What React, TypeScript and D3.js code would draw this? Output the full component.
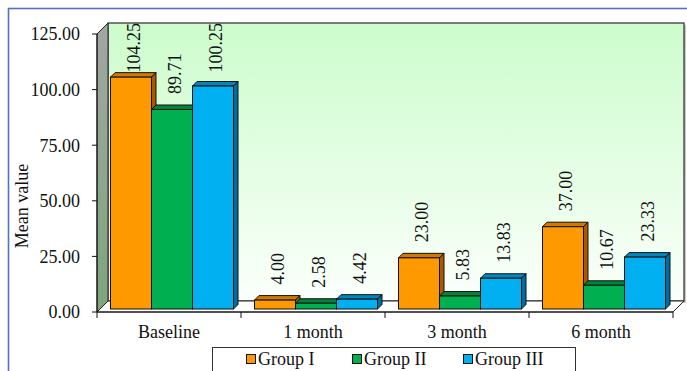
import * as d3 from "d3";

const categories = ["Baseline", "1 month", "3 month", "6 month"];
const groups = ["Group I", "Group II", "Group III"];
const groupI = [104.25, 4.0, 23.0, 37.0];
const groupII = [89.71, 2.58, 5.83, 10.67];
const groupIII = [100.25, 4.42, 13.83, 23.33];
const yTicks = [0, 25, 50, 75, 100, 125];

const seriesValues = [groupI, groupII, groupIII];
const fronts = ["#FF9900", "#00B050", "#00B0F0"];
const tops = ["#D27A00", "#00843C", "#0087BE"];
const sides = ["#A85A00", "#006A30", "#006E9C"];

const W = 687,
  H = 371;
const left = 97,
  right = 673,
  bottom = 312,
  top = 34;
const depth = 11; // wall depth
const shift = 3; // bars sit a little behind the front plane
const bd = 4.5; // bar depth
const font = "'Liberation Serif', 'Times New Roman', serif";
const fs = 18;

const y = d3.scaleLinear().domain([0, 125]).range([bottom, top]);
const x = d3.scaleBand().domain(categories).range([left, right]).padding(0);
const xg = d3
  .scaleBand()
  .domain(groups)
  .range([0, x.bandwidth()])
  .paddingInner(0)
  .paddingOuter(0.256);

const pts = (p: number[][]) => p.map((d) => d.join(",")).join(" ");

export default function App() {
  const bars: any[] = [];
  categories.forEach((c, ci) => {
    groups.forEach((g, gi) => {
      const v = seriesValues[gi][ci];
      const x0 = (x(c) as number) + (xg(g) as number) + shift;
      const bw = xg.bandwidth();
      const yb = bottom - shift;
      const yt = y(v) - shift;
      bars.push({ c, g, gi, v, x0, bw, yb, yt });
    });
  });

  return (
    <svg
      width={W}
      height={H}
      style={{ position: "absolute", left: 0, top: 0, display: "block" }}
      fontFamily={font}
    >
      <defs>
        <linearGradient id="wall" x1="0" x2="0" y1="0" y2="1">
          <stop offset="0%" stopColor="#CCFCCC" />
          <stop offset="100%" stopColor="#FBFFFB" />
        </linearGradient>
        <linearGradient id="side" x1="0" x2="0" y1="0" y2="1">
          <stop offset="0%" stopColor="#A3A6A3" />
          <stop offset="100%" stopColor="#7DA57D" />
        </linearGradient>
      </defs>
      <rect width={W} height={H} fill="#fff" />
      <rect
        x={8.5}
        y={8.5}
        width={W + 20}
        height={H + 20}
        fill="none"
        stroke="#4F74B8"
        strokeWidth={1.6}
      />

      {/* back wall */}
      <rect
        x={left + depth + 2}
        y={top - depth + 2}
        width={right - left}
        height={bottom - top}
        fill="#c8c8c8"
      />
      <rect
        x={left + depth}
        y={top - depth}
        width={right - left}
        height={bottom - top}
        fill="url(#wall)"
        stroke="#3a3a3a"
        strokeWidth={1.3}
      />
      {/* side wall */}
      <polygon
        points={pts([
          [left, top],
          [left + depth, top - depth],
          [left + depth, bottom - depth],
          [left, bottom],
        ])}
        fill="url(#side)"
        stroke="#222"
        strokeWidth={1}
      />
      {/* floor */}
      <polygon
        points={pts([
          [left, bottom],
          [right, bottom],
          [right + depth, bottom - depth],
          [left + depth, bottom - depth],
        ])}
        fill="#fff"
        stroke="#222"
        strokeWidth={1}
      />

      {/* bars */}
      {bars.map((b, i) => (
        <g key={i} stroke="#111" strokeWidth={1}>
          <polygon
            points={pts([
              [b.x0, b.yt],
              [b.x0 + bd, b.yt - bd],
              [b.x0 + b.bw + bd, b.yt - bd],
              [b.x0 + b.bw, b.yt],
            ])}
            fill={tops[b.gi]}
          />
          <polygon
            points={pts([
              [b.x0 + b.bw, b.yt],
              [b.x0 + b.bw + bd, b.yt - bd],
              [b.x0 + b.bw + bd, b.yb - bd],
              [b.x0 + b.bw, b.yb],
            ])}
            fill={sides[b.gi]}
          />
          <rect
            x={b.x0}
            y={b.yt}
            width={b.bw}
            height={b.yb - b.yt}
            fill={fronts[b.gi]}
          />
        </g>
      ))}

      {/* value labels */}
      {bars.map((b, i) => {
        const label = b.v.toFixed(2);
        const tw = (label.length - 1) * fs * 0.5 + fs * 0.25;
        const ly = Math.max(b.yt - bd - 11, top - depth + tw);
        const lx = b.x0 + b.bw / 2 + bd / 2;
        return (
          <text
            key={i}
            transform={`translate(${lx},${ly}) rotate(-90)`}
            fontSize={fs}
            dy="0.35em"
            fill="#111"
          >
            {label}
          </text>
        );
      })}

      {/* y axis */}
      <line x1={left} x2={left} y1={top} y2={bottom} stroke="#111" />
      {yTicks.map((t) => (
        <g key={t}>
          <line x1={left - 5} x2={left} y1={y(t)} y2={y(t)} stroke="#111" />
          <text
            x={80}
            y={y(t)}
            dy="0.35em"
            textAnchor="end"
            fontSize={fs}
            fill="#111"
          >
            {t.toFixed(2)}
          </text>
        </g>
      ))}
      <text
        transform={`translate(22,206) rotate(-90)`}
        textAnchor="middle"
        dy="0.35em"
        fontSize={fs}
        fill="#111"
      >
        Mean value
      </text>

      {/* x axis */}
      <line x1={left} x2={right} y1={bottom} y2={bottom} stroke="#111" />
      {[...categories.map((c) => x(c) as number), right].map((t, i) => (
        <line key={i} x1={t} x2={t} y1={bottom} y2={bottom + 6} stroke="#111" />
      ))}
      {categories.map((c) => (
        <text
          key={c}
          x={(x(c) as number) + x.bandwidth() / 2}
          y={338}
          textAnchor="middle"
          fontSize={fs}
          fill="#111"
        >
          {c}
        </text>
      ))}

      {/* legend */}
      <rect
        x={212.5}
        y={347.5}
        width={363}
        height={40}
        fill="#fff"
        stroke="#333"
        strokeWidth={1}
      />
      {groups.map((g, i) => {
        const lx = [246, 352, 463][i];
        return (
          <g key={g}>
            <rect
              x={lx + 0.5}
              y={354.5}
              width={9}
              height={9}
              fill={fronts[i]}
              stroke="#111"
            />
            <text x={lx + 12} y={364.5} fontSize={fs} fill="#111">
              {g}
            </text>
          </g>
        );
      })}
    </svg>
  );
}
